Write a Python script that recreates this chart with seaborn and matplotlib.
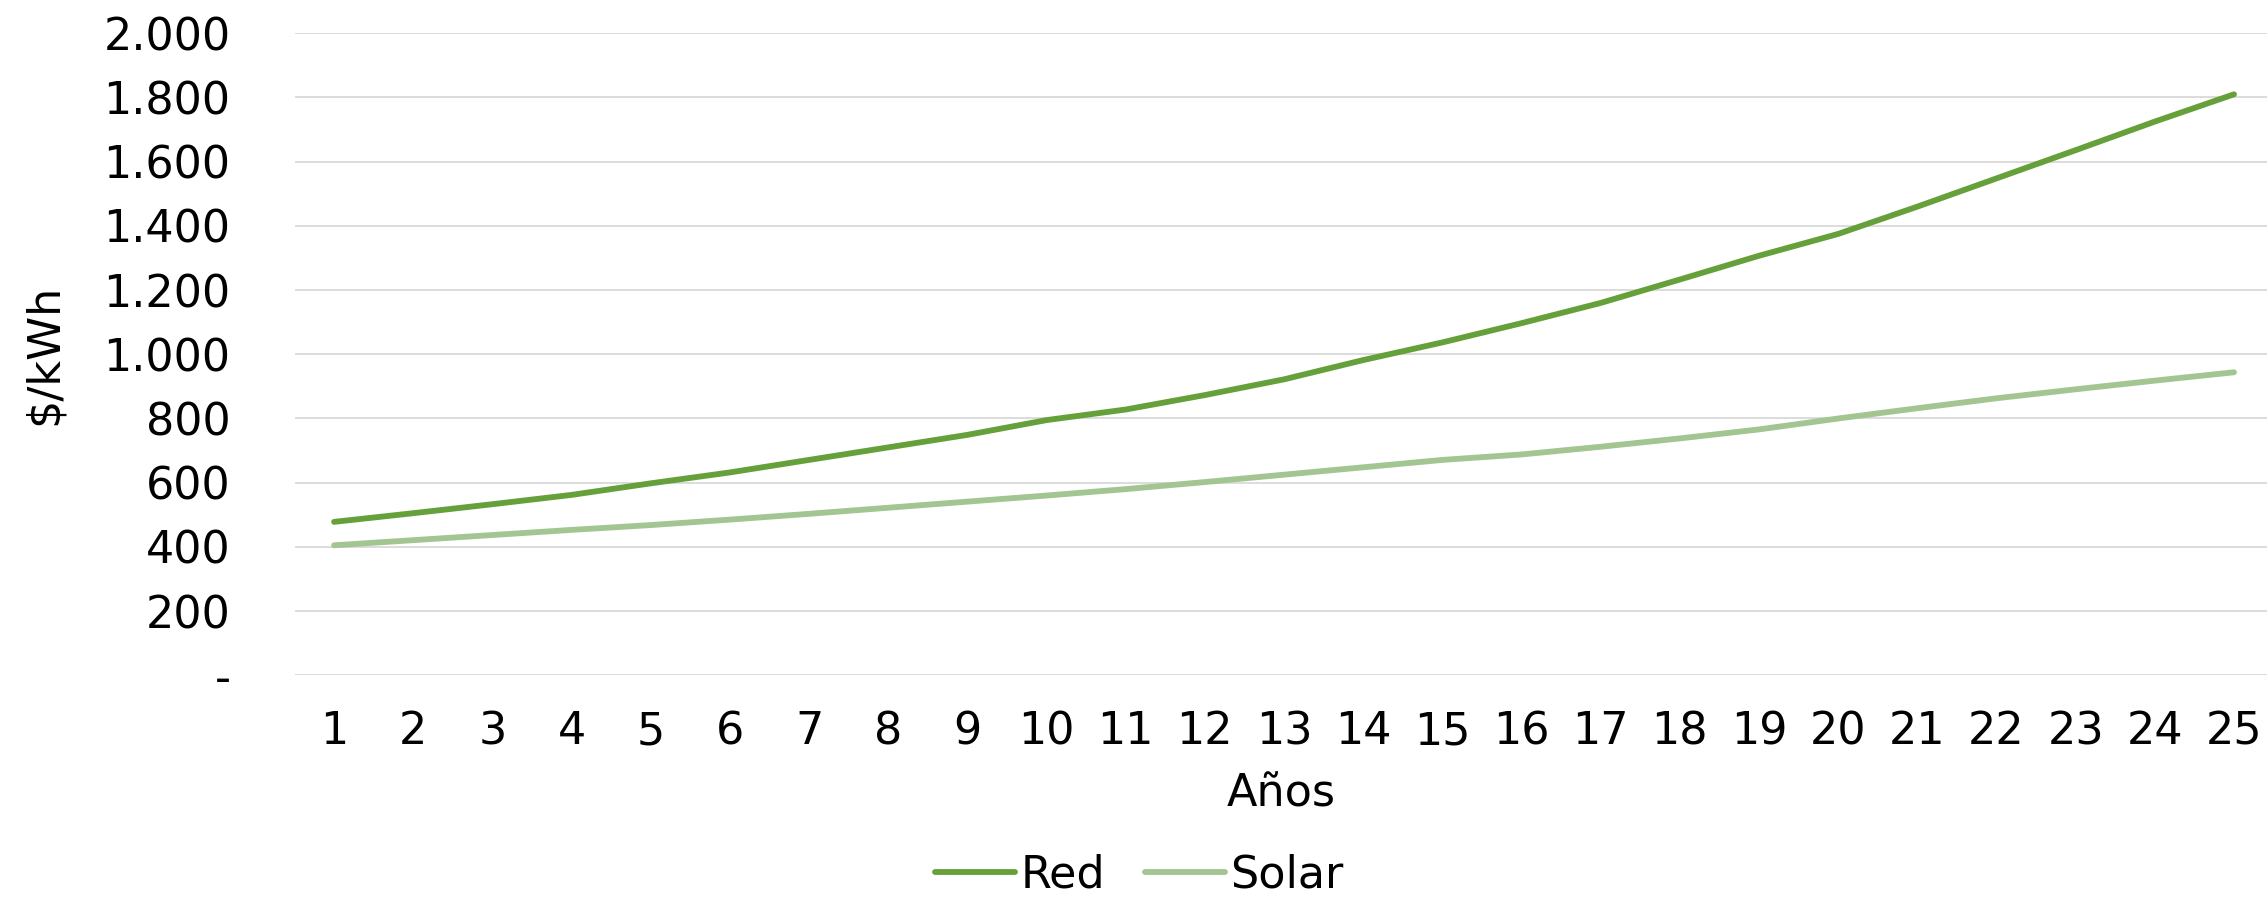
import matplotlib
matplotlib.use("Agg")
import matplotlib.pyplot as plt
import seaborn as sns
import pandas as pd

# ---- data ----
years = list(range(1, 26))
red = [478, 505, 533, 562, 598, 632, 671, 710, 749, 795, 828, 873, 922, 982, 1037,
       1097, 1160, 1233, 1307, 1375, 1460, 1548, 1636, 1725, 1810]
solar = [405, 421, 437, 453, 468, 485, 503, 522, 541, 560, 580, 602, 625, 648, 671,
         688, 712, 738, 766, 800, 832, 863, 891, 918, 944]
series_names = ["Red", "Solar"]
y_ticks = [0, 200, 400, 600, 800, 1000, 1200, 1400, 1600, 1800, 2000]
y_tick_labels = ["-", "200", "400", "600", "800", "1.000", "1.200", "1.400", "1.600", "1.800", "2.000"]
x_label = "Años"
y_label = "$/kWh"

colors = {"Red": "#66A03A", "Solar": "#A3C591"}

df = pd.DataFrame({
    "Año": years * 2,
    "Valor": red + solar,
    "Serie": [series_names[0]] * len(years) + [series_names[1]] * len(years),
})

sns.set_theme(style="white")
plt.rcParams["font.family"] = ["DejaVu Sans"]
plt.rcParams["text.color"] = "#000000"

W, H = 2267, 899
fig = plt.figure(figsize=(W / 100, H / 100), dpi=100)
left, right = 294.5, 2267
top, bottom = 33.3, 675.3
ax = fig.add_axes([left / W, (H - bottom) / H, (right - left) / W, (bottom - top) / H])

LW = 4.2
FS = 32

sns.lineplot(data=df, x="Año", y="Valor", hue="Serie", palette=colors, ax=ax,
             linewidth=LW, legend=False, solid_capstyle="round")

ax.set_xlim(0.5, 25.5 - 6.6 / 79.17)
ax.set_ylim(0, 2000)
ax.set_yticks(y_ticks)
ax.set_yticklabels(y_tick_labels)
ax.set_xticks(years)
ax.set_xticklabels([str(y) for y in years])
for s in ax.spines.values():
    s.set_visible(False)
ax.grid(axis="y", color="#D9D9D9", linewidth=1.3)
ax.grid(axis="x", visible=False)
ax.tick_params(axis="y", length=0, pad=46, labelsize=FS, labelcolor="#000000")
ax.tick_params(axis="x", length=0, pad=25, labelsize=FS, labelcolor="#000000")
ax.set_xlabel(x_label, fontsize=FS, labelpad=14, color="#000000")
ax.set_ylabel(y_label, fontsize=FS, color="#000000")
ax.yaxis.set_label_coords(-(left - 66) / (right - left), 0.5)

from matplotlib.lines import Line2D
handles = [Line2D([0], [0], color=colors[n], linewidth=LW, solid_capstyle="round") for n in series_names]
fig.legend(handles, series_names, loc="center", bbox_to_anchor=(0.5025, 1 - 875 / H),
           ncol=2, frameon=False, fontsize=FS, handlelength=1.8, handletextpad=0.12,
           columnspacing=0.9, labelcolor="#000000")

fig.savefig("out.png", dpi=100, facecolor="white")
